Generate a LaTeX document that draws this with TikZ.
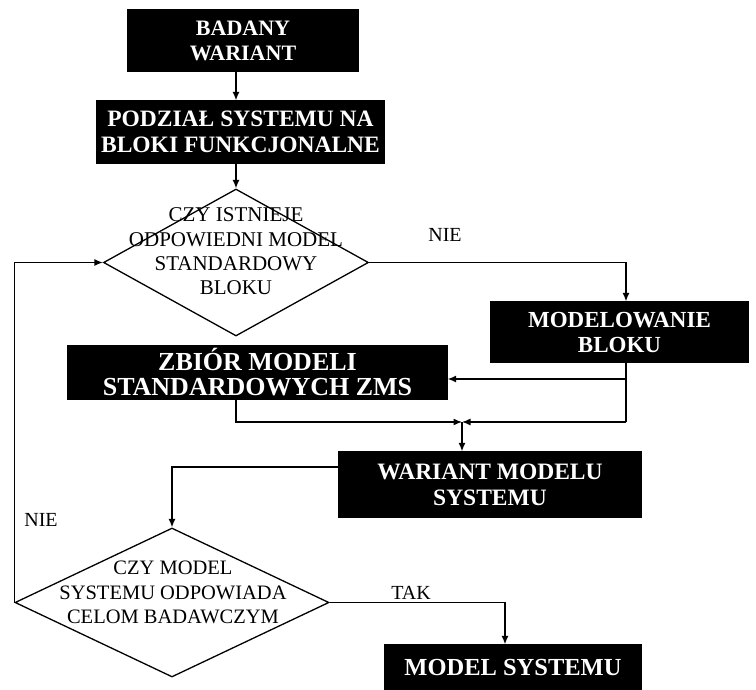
\documentclass[tikz,border=0pt]{standalone}
\usepackage{fontspec}
\setmainfont{Liberation Serif}
\usetikzlibrary{shapes.geometric,arrows.meta}
\begin{document}
\begin{tikzpicture}[x=1pt,y=1pt,
  line width=1.3pt,
  blk/.style={fill=black, draw=black, text=white, align=center, inner sep=0pt},
  dia/.style={diamond, draw=black, inner sep=0pt},
  dtext/.style={align=center, inner sep=0pt},
  lbl/.style={inner sep=0pt, font=\fontsize{20}{24}\selectfont},
  arr/.style={-{Latex[length=8.5pt,width=7pt]}}
]
\fill[white] (0,0) rectangle (756,-690);
\useasboundingbox (0,0) rectangle (756,-690);

% boxes
\node[blk, minimum width=230pt, minimum height=61pt, font=\fontsize{22}{25}\selectfont\bfseries] (b1) at (243,-40.5) {BADANY\\WARIANT};
\node[blk, minimum width=287pt, minimum height=62pt, font=\fontsize{23.5}{26}\selectfont\bfseries] (b2) at (240.5,-132) {PODZIAŁ SYSTEMU NA\\BLOKI FUNKCJONALNE};
\node[blk, minimum width=379pt, minimum height=54pt, font=\fontsize{26}{25}\selectfont\bfseries] (b3) at (257.5,-372.5) {ZBIÓR MODELI\\STANDARDOWYCH ZMS};
\node[blk, minimum width=257pt, minimum height=60pt, font=\fontsize{23}{25}\selectfont\bfseries] (b4) at (619.5,-332) {MODELOWANIE\\BLOKU};
\node[blk, minimum width=302pt, minimum height=65pt, font=\fontsize{23.5}{26}\selectfont\bfseries] (b5) at (490,-484.5) {WARIANT MODELU\\SYSTEMU};
\node[blk, minimum width=256pt, minimum height=45pt, font=\fontsize{24.5}{26}\selectfont\bfseries] (b6) at (513,-667.5) {MODEL SYSTEMU};

% diamonds
\node[dia, minimum width=265pt, minimum height=147pt] (d1) at (236,-262.5) {};
\node[dtext, font=\fontsize{21}{24.3}\selectfont] (d1t) at (236,-251.5) {CZY ISTNIEJE\\ODPOWIEDNI MODEL\\STANDARDOWY\\BLOKU};
\node[dia, minimum width=314pt, minimum height=149pt] (d2) at (172,-602.5) {};
\node[dtext, font=\fontsize{20.5}{24.5}\selectfont] (d2t) at (173,-592.5) {CZY MODEL\\SYSTEMU ODPOWIADA\\CELOM BADAWCZYM};

% labels
\node[lbl] (nie1) at (445,-235) {NIE};
\node[lbl] (nie2) at (41,-520) {NIE};
\node[lbl] (tak) at (411,-593) {TAK};

% helper coordinates
\coordinate (sp) at (236,0);
\coordinate (rx) at (626,0);
\coordinate (j) at (462,-422);
\coordinate (y379) at (0,-379);
\coordinate (y467) at (0,-467);
\coordinate (tx) at (505,0);

% connectors
\draw[arr] (b1.south -| sp) -- (b2.north -| sp);
\draw[arr] (b2.south -| sp) -- (d1.north);
\draw[arr] (d1.east) -| (b4.north -| rx);
\draw (b4.south -| rx) -- (rx |- j);
\draw[arr] (rx |- y379) -- (b3.east |- y379);
\draw[arr] (rx |- j) -- (j);
\draw[arr] (b3.south -| sp) |- (j);
\draw[arr] (j) -- (b5.north -| j);
\draw[arr] (b5.west |- y467) -| (d2.north);
\draw[arr] (d2.west) |- (d1.west);
\draw[arr] (d2.east) -| (b6.north -| tx);
\end{tikzpicture}
\end{document}
